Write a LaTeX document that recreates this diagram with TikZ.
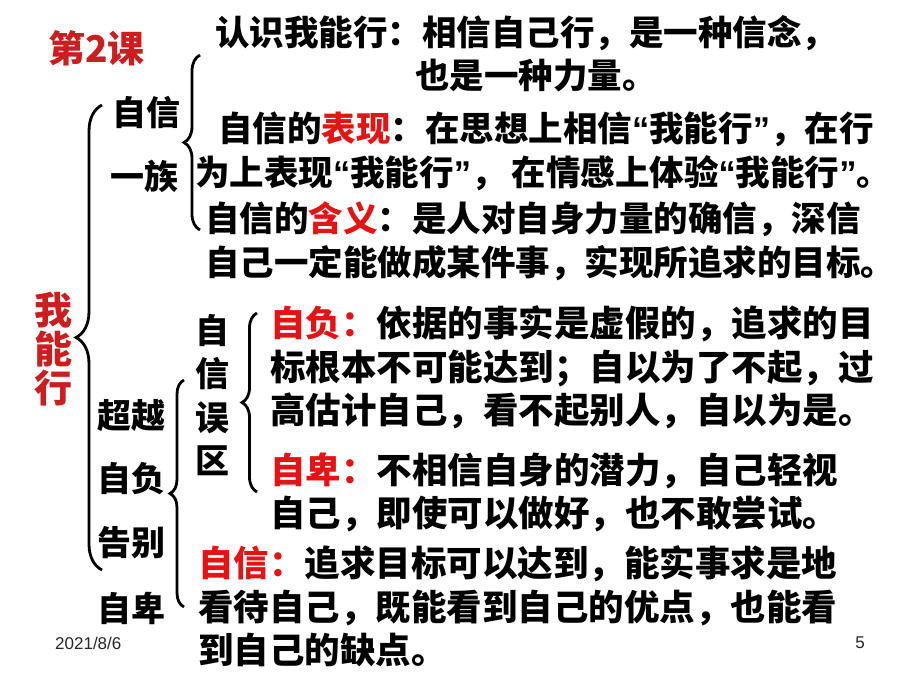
\documentclass[tikz,border=0pt]{standalone}
\usepackage{fontspec}
\setmainfont{Noto Sans CJK SC}
\newfontfamily\qf{Liberation Sans}
\newfontfamily\latinf{Liberation Sans}
\usetikzlibrary{decorations.pathreplacing}
\definecolor{tred}{RGB}{204,30,30}
\definecolor{kred}{RGB}{228,20,20}
\newcommand\qL{{\qf\bfseries “}}
\newcommand\qR{{\qf\bfseries ”}}
\tikzset{
  txt/.style={anchor=west, inner sep=0pt, font=\bfseries\fontsize{34.5}{44}\selectfont, text height=30.4pt, text depth=4.1pt},
  txtb/.style={anchor=west, inner sep=0pt, font=\bfseries\fontsize{35.5}{44}\selectfont, text height=31.2pt, text depth=4.3pt},
  lbl/.style={anchor=west, inner sep=0pt, font=\bfseries\fontsize{34}{44}\selectfont, text height=29.9pt, text depth=4.1pt},
  vlbl/.style={inner sep=0pt, align=center},
  br/.style={decorate, decoration={brace, amplitude=#1}, line width=2.8pt},
  small/.style={inner sep=0pt, font=\latinf\fontsize{17}{20}\selectfont, text=black!85},
}
\begin{document}
\begin{tikzpicture}[x=1pt,y=-1pt]
\useasboundingbox (0,0) rectangle (920,690);
\fill[white] (0,0) rectangle (920,690);
% title and left column
\node[lbl, text=tred, font=\bfseries\fontsize{37}{44}\selectfont] (title) at (48,50) {第2课};
\node[vlbl, text=tred, font=\bfseries\fontsize{38}{39}\selectfont] (wnx) at (53,349) {我\\能\\行};
\node[lbl] (zx) at (112,113) {自信};
\node[lbl] (yz) at (110,177) {一族};
\node[lbl] (cy) at (97,416) {超越};
\node[lbl] (zf) at (97,479) {自负};
\node[lbl] (gb) at (97,543) {告别};
\node[lbl] (zb) at (97,609) {自卑};
\node[vlbl, font=\bfseries\fontsize{34}{43.3}\selectfont] (wq) at (212,395) {自\\信\\误\\区};
% braces
\draw[br=26pt] (102,570) -- (102,105);
\draw[br=16pt] (200,230) -- (200,55);
\draw[br=14pt] (184,607) -- (184,380);
\draw[br=15pt] (257,492) -- (257,313);
% upper block
\node[txt] (r1) at (215,32) {认识我能行：相信自己行，是一种信念，};
\node[txt] (r2) at (415,75) {也是一种力量。};
\node[txt] (r3) at (218,128) {自信的\textcolor{kred}{表现}：在思想上相信\qL 我能行\qR ，在行};
\node[txt] (r4) at (195,172) {为上表现\qL 我能行\qR ，\hspace{6pt}在情感上体验\qL 我能行\qR 。};
\node[txt] (r5) at (205,218) {自信的\textcolor{kred}{含义}：是人对自身力量的确信，深信};
\node[txt] (r6) at (205,262) {自己一定能做成某件事，实现所追求的目标。};
% lower block
\node[txtb] (r7) at (270,323) {\textcolor{kred}{自负：}依据的事实是虚假的，追求的目};
\node[txtb] (r8) at (270,367) {标根本不可能达到；自以为了不起，过};
\node[txtb] (r9) at (270,410) {高估计自己，看不起别人，自以为是。};
\node[txtb] (r10) at (270,470) {\textcolor{kred}{自卑：}不相信自身的潜力，自己轻视};
\node[txtb] (r11) at (270,513) {自己，即使可以做好，也不敢尝试。};
\node[txtb] (r12) at (198,563) {\textcolor{kred}{自信：}追求目标可以达到，能实事求是地};
\node[txtb] (r13) at (198,607) {看待自己，既能看到自己的优点，也能看};
\node[txtb] (r14) at (198,650) {到自己的缺点。};
% footer
\node[small, anchor=west] (date) at (55,643) {2021/8/6};
\node[small] (pg) at (860,643) {5};
\end{tikzpicture}
\end{document}
